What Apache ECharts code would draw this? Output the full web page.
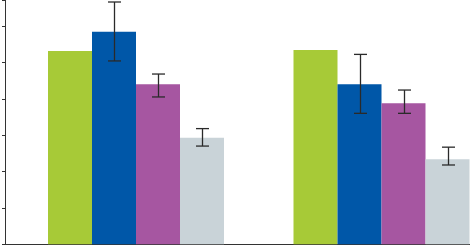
<!DOCTYPE html>
<html><head><meta charset="utf-8">
<script src="https://cdn.jsdelivr.net/npm/echarts@6/dist/echarts.min.js"></script>
<style>html,body{margin:0;padding:0;background:#fff}#c{width:470px;height:246px}</style>
</head><body><div id="c"></div>
<script>
const categories = ['Group 1', 'Group 2'];
const seriesNames = ['A', 'B', 'C', 'D'];
const greenVals = [5.31, 5.34];
const blueVals = [5.84, 4.40];
const purpleVals = [4.40, 3.88];
const grayVals = [2.93, 2.34];
// error bars [low, high] per category (null = none)
const greenErr = [null, null];
const blueErr = [[5.04, 6.66], [3.60, 5.22]];
const purpleErr = [[4.05, 4.68], [3.60, 4.24]];
const grayErr = [[2.70, 3.18], [2.18, 2.67]];
const yTicks = [0, 1, 2, 3, 4, 5, 6];
const yAxisMax = 6.715; // visible top of the cropped axis

const colors = ['#A7CA37', '#0057A8', '#A656A1', '#C9D3D8'];
const values = [greenVals, blueVals, purpleVals, grayVals];
const errs = [greenErr, blueErr, purpleErr, grayErr];
const BW = 44;

const errData = [];
errs.forEach((e, si) => e.forEach((r, ci) => { if (r) errData.push([ci, r[0], r[1], si]); }));

const chart = echarts.init(document.getElementById('c'), null, {renderer: 'canvas'});
const gridTop = 0, gridBottom = 1.7;
const yMin = yTicks[0];
chart.setOption({
  animation: false,
  grid: [
    {left: 136, right: 88.5, top: gridTop, bottom: gridBottom, containLabel: false},
    {left: 5, right: 0, top: gridTop, bottom: gridBottom, containLabel: false}
  ],
  xAxis: [
    {type: 'category', gridIndex: 0, data: categories, boundaryGap: false, show: false},
    {type: 'value', gridIndex: 1, min: 0, max: 1, axisLine: {show: true, onZero: false, lineStyle: {color: '#333', width: 1}}, axisTick: {show: false}, axisLabel: {show: false}, splitLine: {show: false}}
  ],
  yAxis: [
    {type: 'value', gridIndex: 0, min: yMin, max: yAxisMax, interval: 1, show: false},
    {type: 'value', gridIndex: 1, min: yMin, max: yAxisMax, interval: 1,
      axisLine: {show: true, lineStyle: {color: '#333', width: 1}},
      axisTick: {show: true, length: 3, inside: false, lineStyle: {color: '#333'}},
      axisLabel: {show: false}, splitLine: {show: false}}
  ],
  series: values.map((v, i) => ({
    type: 'bar', name: seriesNames[i], data: v, xAxisIndex: 0, yAxisIndex: 0,
    barWidth: BW, barGap: '0%', itemStyle: {color: colors[i]}, silent: true, clip: false
  })).concat([{
    type: 'custom', xAxisIndex: 0, yAxisIndex: 0, data: errData, z: 10, clip: false,
    renderItem: function (params, api) {
      const ci = api.value(0), lo = api.value(1), hi = api.value(2), si = api.value(3);
      const pLo = api.coord([ci, lo]);
      const pHi = api.coord([ci, hi]);
      const x = Math.round(pLo[0] + (si - 1.5) * BW) + 0.5;
      const cap = 6.5;
      const style = {stroke: '#2a2a2a', lineWidth: 1.3};
      return {type: 'group', children: [
        {type: 'line', shape: {x1: x, y1: pLo[1], x2: x, y2: pHi[1]}, style: style},
        {type: 'line', shape: {x1: x - cap, y1: pLo[1], x2: x + cap, y2: pLo[1]}, style: style},
        {type: 'line', shape: {x1: x - cap, y1: pHi[1], x2: x + cap, y2: pHi[1]}, style: style}
      ]};
    }
  }])
});
</script></body></html>
